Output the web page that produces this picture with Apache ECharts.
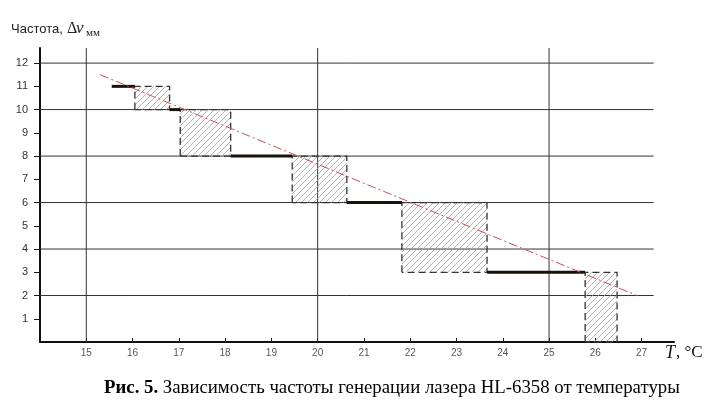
<!DOCTYPE html>
<html>
<head>
<meta charset="utf-8" />
<script type="text/javascript" src="https://cdn.jsdelivr.net/npm/echarts@6/dist/echarts.min.js"></script>
<title></title>
<style>html,body{margin:0;padding:0;background:#fff;}</style>
</head>
<body>
<div id="chartmain" style="width:714px; height:406px;"></div>
<script type="text/javascript">
var xTicks = [15, 16, 17, 18, 19, 20, 21, 22, 23, 24, 25, 26, 27];
var yTicks = [1, 2, 3, 4, 5, 6, 7, 8, 9, 10, 11, 12];
var hGrid = [2, 4, 6, 8, 10, 12];
var vGrid = [15, 20, 25];
// black steps: [x from, x to, level]
var steps = [
  [15.55, 16.05, 11],
  [16.8, 17.03, 10],
  [18.12, 19.45, 8],
  [20.63, 21.82, 6],
  [23.66, 25.78, 3]
];
// hatched zones: [x from, x to, low, high]
var zones = [
  [16.05, 16.8, 10, 11],
  [17.03, 18.12, 8, 10],
  [19.45, 20.63, 6, 8],
  [21.82, 23.66, 3, 6],
  [25.78, 26.47, 0, 3]
];
// red dash-dot trend
var trend = [[15.3, 11.5], [26.9, 2.0]];

// diagonal hatch tile
function hatch() {
  var c = document.createElement('canvas');
  c.width = 6; c.height = 6;
  var g = c.getContext('2d');
  g.strokeStyle = '#a2a2a2';
  g.lineWidth = 0.8;
  g.beginPath();
  g.moveTo(0, 6); g.lineTo(6, 0);
  g.moveTo(-1, 1); g.lineTo(1, -1);
  g.moveTo(5, 7); g.lineTo(7, 5);
  g.stroke();
  return c;
}
var pattern = { image: hatch(), repeat: 'repeat' };

var option = {
  animation: false,
  backgroundColor: '#fff',
  grid: { left: 40, right: 40, top: 48, bottom: 64 },
  xAxis: {
    type: 'value', min: 14, max: 27.7, interval: 1,
    axisLine: { lineStyle: { color: '#111', width: 2 } },
    axisTick: { inside: true, length: 4, customValues: xTicks, lineStyle: { color: '#111' } },
    axisLabel: { customValues: xTicks, margin: 6, fontSize: 10, color: '#555', fontFamily: 'Liberation Sans' },
    splitLine: { show: false }
  },
  yAxis: {
    type: 'value', min: 0, max: 12.65, interval: 1,
    axisLine: { show: true, lineStyle: { color: '#111', width: 2 } },
    axisTick: { show: true, length: 6, customValues: yTicks, lineStyle: { color: '#111' } },
    axisLabel: { customValues: yTicks, margin: 12, fontSize: 11, color: '#333', fontFamily: 'Liberation Sans' },
    splitLine: { show: false }
  },
  graphic: [
    { type: 'text', left: 11, top: 23, style: { text: 'Частота,', font: '13px "Liberation Sans"', fill: '#222' } },
    { type: 'text', left: 67, top: 21, style: { text: 'Δ', font: '16px "Liberation Serif"', fill: '#222' } },
    { type: 'text', left: 76, top: 20, style: { text: 'ν', font: 'italic 17px "Liberation Serif"', fill: '#222' } },
    { type: 'text', left: 86, top: 28, style: { text: 'мм', font: '11px "Liberation Serif"', fill: '#222' } },
    { type: 'text', left: 665, top: 344, style: { text: 'T', font: 'italic 18px "Liberation Serif"', fill: '#111' } },
    { type: 'text', left: 676, top: 344, style: { text: ', °C', font: '17px "Liberation Serif"', fill: '#111' } },
    {
      type: 'text', left: 104, top: 379,
      style: {
        text: '{b|Рис. 5.}{r| Зависимость частоты генерации лазера HL-6358 от температуры}',
        rich: {
          b: { font: 'bold 18.8px "Liberation Serif"', fill: '#000' },
          r: { font: '18.8px "Liberation Serif"', fill: '#000' }
        }
      }
    }
  ],
  series: [
    {
      type: 'custom', z: 1, silent: true,
      data: hGrid,
      renderItem: function (params, api) {
        var a = api.coord([14, api.value(0)]);
        var b = api.coord([27.26, api.value(0)]);
        return { type: 'line', shape: { x1: a[0], y1: a[1], x2: b[0], y2: b[1] }, style: { stroke: '#333', lineWidth: 1 } };
      }
    },
    {
      type: 'custom', z: 1, silent: true,
      data: vGrid,
      renderItem: function (params, api) {
        var a = api.coord([api.value(0), 0]);
        return { type: 'line', shape: { x1: a[0], y1: a[1], x2: a[0], y2: params.coordSys.y }, style: { stroke: '#333', lineWidth: 1 } };
      }
    },
    {
      type: 'custom', z: 2, silent: true,
      data: zones,
      renderItem: function (params, api) {
        var p0 = api.coord([api.value(0), api.value(3)]);
        var p1 = api.coord([api.value(1), api.value(2)]);
        var x0 = p0[0], y0 = p0[1], x1 = p1[0], y1 = p1[1];
        return {
          type: 'group',
          children: [
            { type: 'rect', shape: { x: x0, y: y0, width: x1 - x0, height: y1 - y0 }, style: { fill: pattern } },
            {
              type: 'polyline',
              shape: { points: [[x0, y1], [x0, y0], [x1, y0], [x1, y1], [x0, y1]] },
              style: { stroke: '#333', lineWidth: 1.3, lineDash: [7, 4], fill: null }
            }
          ]
        };
      }
    },
    {
      type: 'custom', z: 3, silent: true,
      data: steps,
      renderItem: function (params, api) {
        var a = api.coord([api.value(0), api.value(2)]);
        var b = api.coord([api.value(1), api.value(2)]);
        return { type: 'line', shape: { x1: a[0], y1: a[1], x2: b[0], y2: b[1] }, style: { stroke: '#1a1208', lineWidth: 3 } };
      }
    },
    {
      type: 'line', z: 4, silent: true,
      data: trend, symbol: 'none',
      lineStyle: { color: '#c4525a', width: 1, type: [9, 3, 2, 3] }
    }
  ]
};

var myChart = echarts.init(document.getElementById('chartmain'));
myChart.setOption(option);
</script>
</body>
</html>
